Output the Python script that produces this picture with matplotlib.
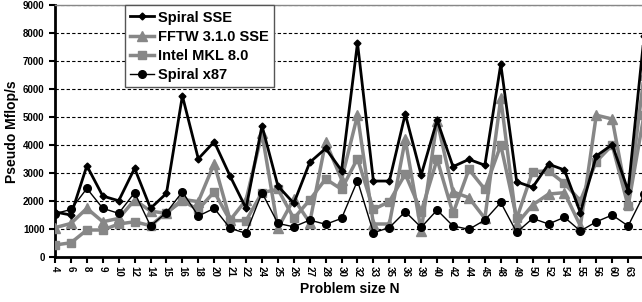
import matplotlib
matplotlib.use("Agg")
import matplotlib.pyplot as plt

plt.rcParams['font.family'] = ['Liberation Sans', 'DejaVu Sans']
plt.rcParams['font.weight'] = 'bold'

# Problem sizes (category axis)
sizes = ["4", "6", "8", "9", "10", "12", "14", "15", "16", "18", "20", "21", "22",
         "24", "25", "26", "27", "28", "30", "32", "33", "35", "36", "39", "40",
         "42", "44", "45", "48", "49", "50", "52", "54", "55", "56", "60", "63", "64"]

# Pseudo Mflop/s
spiral_sse = [1620, 1510, 3270, 2190, 2020, 3180, 1750, 2285, 5770, 3520, 4130, 2900, 1750,
              4700, 2550, 1930, 3390, 3890, 3100, 7660, 2725, 2725, 5120, 2940, 4900,
              3240, 3500, 3290, 6900, 2700, 2500, 3330, 3120, 1600, 3620, 4030, 2380, 7900]
fftw = [1060, 1210, 1750, 1270, 1390, 2050, 1650, 1570, 2070, 1990, 3350, 1330, 2050,
        4430, 1035, 2090, 1240, 4130, 2780, 5080, 1190, 1190, 4210, 950, 4880,
        2340, 2130, 1390, 5680, 1190, 1870, 2260, 2310, 1120, 5080, 4940, 1900, 6500]
mkl = [440, 520, 975, 975, 1190, 1270, 1130, 1600, 2010, 1710, 2340, 1310, 1310,
       2310, 2430, 1390, 2050, 2800, 2430, 3530, 1710, 1990, 2975, 1630, 3500,
       1570, 3140, 2430, 4010, 1390, 3060, 3090, 2640, 2020, 3420, 4010, 1830, 5100]
spiral_x87 = [1560, 1710, 2460, 1750, 1570, 2310, 1120, 1600, 2340, 1475, 1750, 1035, 857,
              2310, 1210, 1090, 1330, 1180, 1390, 2740, 880, 1060, 1630, 1070, 1690,
              1120, 1000, 1330, 1960, 890, 1390, 1190, 1430, 940, 1270, 1510, 1120, 2250]

GRAY = '#878787'

fig = plt.figure(figsize=(6.42, 3.02), dpi=100)
ax = fig.add_axes([0.0857, 0.148, 0.9175, 0.834])

xs = range(len(sizes))
ax.plot(xs, spiral_sse, color='black', lw=2, marker='D', ms=3.5, label='Spiral SSE', zorder=5)
ax.plot(xs, fftw, color=GRAY, lw=2.5, marker='^', ms=7, label='FFTW 3.1.0 SSE', zorder=3)
ax.plot(xs, mkl, color=GRAY, lw=2.5, marker='s', ms=6, label='Intel MKL 8.0', zorder=4)
ax.plot(xs, spiral_x87, color='black', lw=1, marker='o', ms=5.5, label='Spiral x87', zorder=6)

# Axes
ax.set_xlim(0, len(sizes) - 1)
ax.set_ylim(0, 9000)
ax.set_yticks(range(0, 9001, 1000))
ax.set_xticks(list(xs))
ax.set_xticklabels(sizes, rotation=-90, fontsize=7, fontweight='bold')
ax.tick_params(axis='y', labelsize=7, width=1.5, length=4, direction='out')
ax.tick_params(axis='x', width=1.5, length=4, direction='out', pad=2)

ax.yaxis.grid(True, linestyle=(0, (3, 2)), color='black', lw=0.8)
ax.set_axisbelow(True)

for side in ['left', 'bottom']:
    ax.spines[side].set_linewidth(2)
ax.spines['top'].set_color(GRAY)
ax.spines['top'].set_linewidth(1)
ax.spines['right'].set_color(GRAY)

ax.set_xlabel('Problem size N', fontsize=10, fontweight='bold', labelpad=4)
ax.set_ylabel('Pseudo Mflop/s', fontsize=10, fontweight='bold', labelpad=3)

leg = ax.legend(loc='upper left', bbox_to_anchor=(0.119, 1.0), borderaxespad=0,
                fancybox=False, framealpha=1, edgecolor='#555555',
                prop={'size': 10.5, 'weight': 'bold'},
                handlelength=1.6, handletextpad=0.3, labelspacing=0.35,
                borderpad=0.35)
leg.get_frame().set_linewidth(1)

fig.savefig('out.png', dpi=100)
